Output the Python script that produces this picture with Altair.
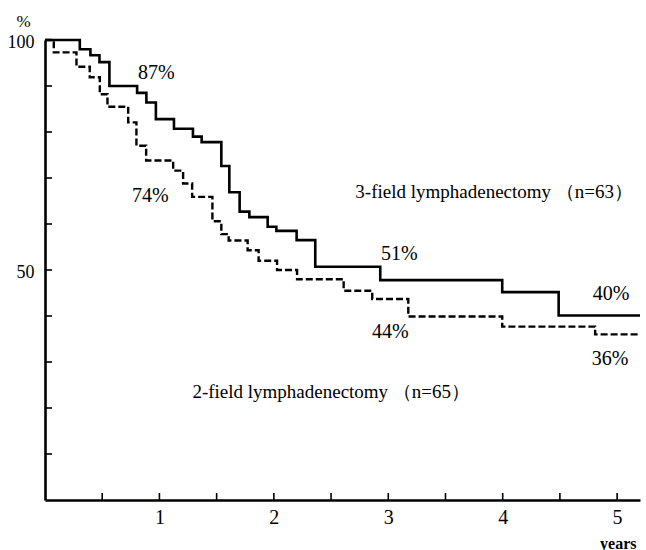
import altair as alt
import pandas as pd

FONT = "Liberation Serif"

# 3-field lymphadenectomy survival curve (years, %)
three_t = [0, 0.304, 0.397, 0.476, 0.563, 0.805, 0.886, 0.969, 1.127, 1.293, 1.369, 1.541,
           1.611, 1.701, 1.786, 1.946, 2.022, 2.199, 2.362, 2.930, 3.996, 4.489, 5.2]
three_s = [100, 98.0, 96.7, 95.2, 90.0, 88.5, 86.4, 82.8, 80.7, 79.0, 77.8, 72.6,
           66.9, 62.7, 61.5, 59.4, 58.5, 56.5, 50.7, 47.8, 45.2, 40.1, 40.1]

# 2-field lymphadenectomy survival curve (years, %)
two_t = [0, 0.077, 0.275, 0.391, 0.479, 0.546, 0.727, 0.799, 0.884, 1.120, 1.207, 1.286,
         1.463, 1.541, 1.605, 1.771, 1.867, 2.028, 2.203, 2.610, 2.860, 3.175, 3.996, 4.808, 5.2]
two_s = [100, 97.3, 94.2, 91.9, 88.2, 85.5, 82.1, 77.0, 73.8, 71.6, 68.8, 65.9,
         60.6, 57.8, 56.4, 54.3, 52.0, 50.0, 48.0, 45.5, 43.7, 39.9, 37.7, 36.0, 36.0]

# percentage annotations
pct_text = ["87%", "74%", "51%", "44%", "40%", "36%"]
pct_t = [0.974, 0.921, 3.096, 3.017, 4.948, 4.939]
pct_s = [92.8, 66.1, 53.5, 36.5, 44.8, 30.7]

# group labels
grp_text = ["3-field lymphadenectomy\u00a0（n=63）",
            "2-field lymphadenectomy\u00a0（n=65）"]
grp_t = [2.712, 1.288]
grp_s = [67.0, 23.5]

# axis ticks and labels
x_label_vals = [1, 2, 3, 4, 5]
x_tick_vals = [0.5, 1, 1.5, 2, 2.5, 3, 3.5, 4, 4.5, 5]
y_label_vals = [50, 100]
y_tick_vals = [10, 20, 30, 40, 50, 60, 70, 80, 90]

df3 = pd.DataFrame({"t": three_t, "s": three_s})
df2 = pd.DataFrame({"t": two_t, "s": two_s})
dfp = pd.DataFrame({"t": pct_t, "s": pct_s, "label": pct_text})
dfg = pd.DataFrame({"t": grp_t, "s": grp_s, "label": grp_text})
dfxt = pd.DataFrame({"t": x_tick_vals})
dfyt = pd.DataFrame({"s": y_tick_vals})

xscale = alt.Scale(domain=[0, 5.2], nice=False, zero=False)
yscale = alt.Scale(domain=[0, 100], nice=False)

x_enc = alt.X("t:Q", scale=xscale, axis=alt.Axis(
    values=x_label_vals, format="d", ticks=False, tickSize=0, grid=False,
    labelPadding=7, labelFontSize=20, labelFont=FONT, labelColor="black",
    domainColor="black", domainWidth=2.6,
    title="years", titleFont=FONT, titleFontSize=16, titleFontWeight="bold",
    titleColor="black", titleX=591, titleY=48, titleAlign="right",
    titleBaseline="alphabetic", titleAnchor="end"))
y_enc = alt.Y("s:Q", scale=yscale, axis=alt.Axis(
    values=y_label_vals, format="d", ticks=False, tickSize=0, grid=False,
    labelPadding=11, labelOffset=2, labelFontSize=18, labelFont=FONT, labelColor="black",
    domainColor="black", domainWidth=2.6,
    title="%", titleFont=FONT, titleFontSize=17, titleFontWeight="normal",
    titleColor="black", titleAngle=0, titleX=-22, titleY=-19,
    titleAlign="center", titleBaseline="middle"))

line3 = alt.Chart(df3).mark_line(
    interpolate="step-after", color="black", strokeWidth=2.6
).encode(x=x_enc, y=y_enc)

line2 = alt.Chart(df2).mark_line(
    interpolate="step-after", color="black", strokeWidth=2.4, strokeDash=[7, 3]
).encode(x=alt.X("t:Q", scale=xscale), y=alt.Y("s:Q", scale=yscale))

xticks = alt.Chart(dfxt).mark_rule(color="black", strokeWidth=1.6).encode(
    x=alt.X("t:Q", scale=xscale), y=alt.value(460), y2=alt.value(453))

yticks = alt.Chart(dfyt).mark_rule(color="black", strokeWidth=1.6).encode(
    y=alt.Y("s:Q", scale=yscale), x=alt.value(0), x2=alt.value(7))

pct = alt.Chart(dfp).mark_text(
    font=FONT, fontSize=20, color="black", align="center", baseline="middle"
).encode(x=alt.X("t:Q", scale=xscale), y=alt.Y("s:Q", scale=yscale), text="label:N")

grp = alt.Chart(dfg).mark_text(
    font=FONT, fontSize=19, color="black", align="left", baseline="middle"
).encode(x=alt.X("t:Q", scale=xscale), y=alt.Y("s:Q", scale=yscale), text="label:N")

chart = alt.layer(line3, line2, xticks, yticks, pct, grp).properties(
    width=595, height=460,
    padding={"left": 45, "top": 40, "right": 6, "bottom": 50},
    autosize=alt.AutoSizeParams(type="none"),
    background="white",
).configure_view(stroke=None)

chart.save("out.html", embed_options={"renderer": "svg", "actions": False})
